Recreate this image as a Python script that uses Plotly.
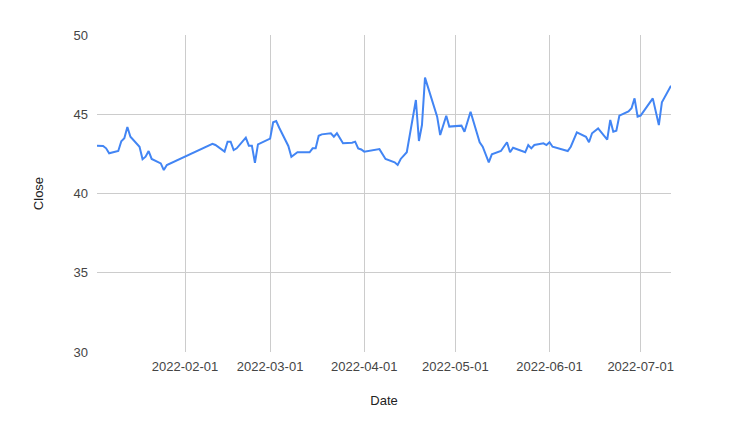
import plotly.graph_objects as go

dates = [
    "2022-01-03", "2022-01-04", "2022-01-05", "2022-01-06", "2022-01-07",
    "2022-01-10", "2022-01-11", "2022-01-12", "2022-01-13", "2022-01-14",
    "2022-01-17", "2022-01-18", "2022-01-19", "2022-01-20", "2022-01-21",
    "2022-01-24", "2022-01-25", "2022-01-26",
    "2022-02-07", "2022-02-08", "2022-02-10", "2022-02-11",
    "2022-02-14", "2022-02-15", "2022-02-16", "2022-02-17", "2022-02-18",
    "2022-02-21", "2022-02-22", "2022-02-23", "2022-02-24", "2022-02-25",
    "2022-02-28", "2022-03-01", "2022-03-02", "2022-03-03", "2022-03-04",
    "2022-03-07", "2022-03-08", "2022-03-09", "2022-03-10", "2022-03-11",
    "2022-03-14", "2022-03-15", "2022-03-16", "2022-03-17", "2022-03-18",
    "2022-03-21", "2022-03-22", "2022-03-23", "2022-03-25",
    "2022-03-28", "2022-03-29", "2022-03-30", "2022-03-31", "2022-04-01",
    "2022-04-06", "2022-04-08",
    "2022-04-11", "2022-04-12", "2022-04-13", "2022-04-15",
    "2022-04-18", "2022-04-19", "2022-04-20", "2022-04-21",
    "2022-04-25", "2022-04-26", "2022-04-28", "2022-04-29",
    "2022-05-03", "2022-05-04", "2022-05-06",
    "2022-05-09", "2022-05-10", "2022-05-12", "2022-05-13",
    "2022-05-16", "2022-05-18", "2022-05-19", "2022-05-20",
    "2022-05-24", "2022-05-25", "2022-05-26", "2022-05-27",
    "2022-05-30", "2022-05-31", "2022-06-01", "2022-06-02",
    "2022-06-07", "2022-06-08", "2022-06-10",
    "2022-06-13", "2022-06-14", "2022-06-15", "2022-06-17",
    "2022-06-20", "2022-06-21", "2022-06-22", "2022-06-23", "2022-06-24",
    "2022-06-27", "2022-06-28", "2022-06-29", "2022-06-30", "2022-07-01",
    "2022-07-05", "2022-07-07", "2022-07-08", "2022-07-11",
]

close = [
    43.02, 43.03, 43.00, 42.85, 42.54,
    42.68, 43.30, 43.48, 44.20, 43.58,
    42.95, 42.16, 42.32, 42.68, 42.18,
    41.90, 41.48, 41.80,
    42.89, 42.93, 43.14, 43.06,
    42.64, 43.27, 43.27, 42.74, 42.85,
    43.52, 43.02, 43.02, 41.94, 43.10,
    43.38, 43.46, 44.49, 44.57, 44.15,
    43.00, 42.32, 42.47, 42.60, 42.60,
    42.60, 42.85, 42.85, 43.64, 43.73,
    43.80, 43.58, 43.80, 43.17,
    43.20, 43.27, 42.85, 42.78, 42.64,
    42.80, 42.18,
    41.97, 41.80, 42.18, 42.60,
    45.90, 43.31, 44.32, 47.31,
    44.85, 43.69, 44.91, 44.22,
    44.28, 43.90, 45.16,
    43.23, 42.95, 41.97, 42.47,
    42.68, 43.23, 42.60, 42.89,
    42.60, 43.06, 42.85, 43.06,
    43.17, 43.06, 43.23, 42.95,
    42.68, 42.95, 43.86,
    43.58, 43.23, 43.80, 44.11,
    43.40, 44.64, 43.90, 43.96, 44.91,
    45.18, 45.38, 46.00, 44.85, 44.91,
    46.00, 44.32, 45.75, 46.80,
]

x_tick_vals = ["2022-02-01", "2022-03-01", "2022-04-01", "2022-05-01", "2022-06-01", "2022-07-01"]
x_tick_text = ["2022-02-01", "2022-03-01", "2022-04-01", "2022-05-01", "2022-06-01", "2022-07-01"]
y_tick_vals = [30, 35, 40, 45, 50]

font_family = "Arial, Liberation Sans, sans-serif"

fig = go.Figure()
fig.add_trace(go.Scatter(
    x=dates, y=close, mode="lines",
    line=dict(color="#4285F4", width=2),
    name="Close",
))

fig.update_layout(
    width=740, height=442,
    margin=dict(l=89, r=77, t=27, b=98),
    paper_bgcolor="white", plot_bgcolor="white",
    showlegend=False,
    font=dict(family=font_family, size=13, color="#444444"),
    xaxis=dict(
        range=[dates[0], dates[-1]],
        tickmode="array", tickvals=x_tick_vals, ticktext=x_tick_text,
        showgrid=True, gridcolor="#cccccc", gridwidth=1,
        zeroline=False, showline=False, ticks="",
        ticklabelstandoff=5,
        tickfont=dict(size=13, color="#444444"),
        title=dict(text="Date", font=dict(size=13, color="#222222"), standoff=22),
        automargin=False,
    ),
    yaxis=dict(
        range=[30, 50],
        tickmode="array", tickvals=y_tick_vals,
        showgrid=True, gridcolor="#cccccc", gridwidth=1,
        zeroline=False, showline=False, ticks="",
        ticklabelstandoff=8,
        tickfont=dict(size=13, color="#444444"),
        title=dict(text="Close", font=dict(size=13, color="#222222"), standoff=26),
        automargin=False,
    ),
)

fig.write_html("out.html")
